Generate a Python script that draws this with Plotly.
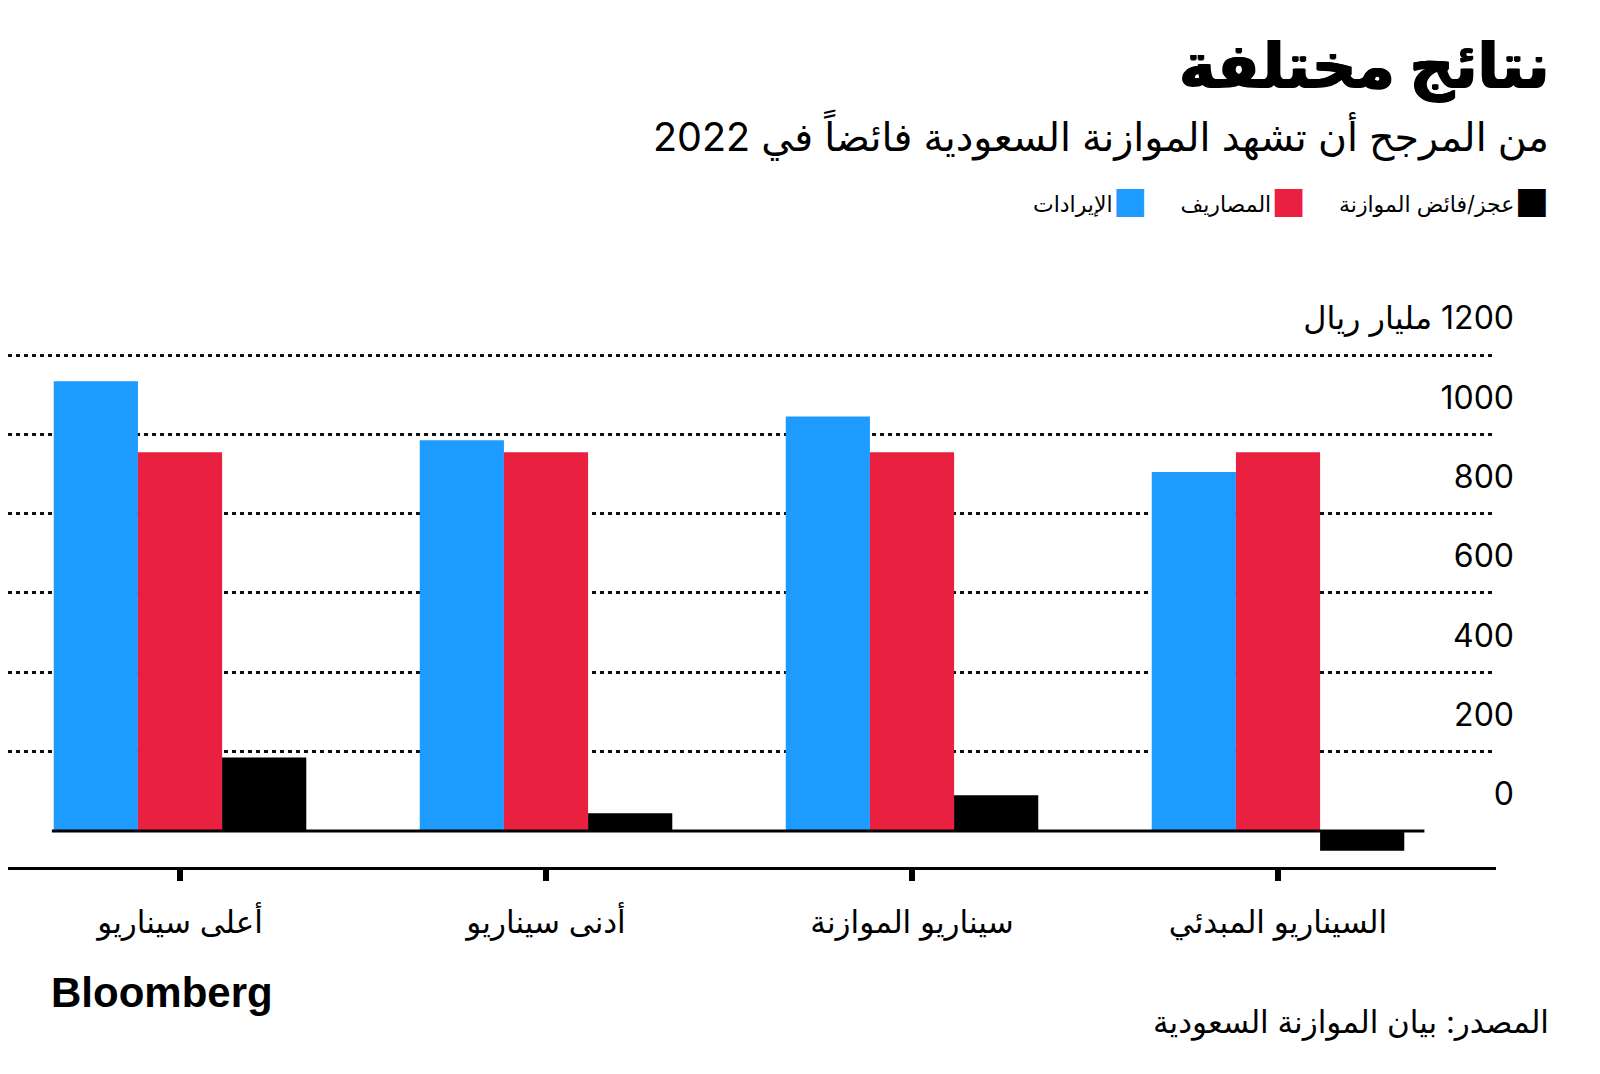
import plotly.graph_objects as go

# ---------------- data ----------------
categories = ["أعلى سيناريو", "أدنى سيناريو", "سيناريو الموازنة", "السيناريو المبدئي"]
revenues = [1134, 985, 1045, 905]
expenses = [955, 955, 955, 955]
balance = [185, 45, 90, -50]
series_names = ["الإيرادات", "المصاريف", "عجز/فائض الموازنة"]
y_tickvals = [0, 200, 400, 600, 800, 1000, 1200]
y_ticktext = ["0", "200", "400", "600", "800", "1000", "\u200F1200 مليار ريال"]

title_text = "نتائج مختلفة"
subtitle_text = "من المرجح أن تشهد الموازنة السعودية فائضاً في 2022"
source_text = "المصدر: بيان الموازنة السعودية"

# ---------------- style ----------------
BLUE = "#1E9BFF"
RED = "#EA2040"
BLACK = "#000000"
FONT = "Inter, DejaVu Sans, sans-serif"

OFF = 8  # page offset of the figure (body margin)
W, H = 1600, 1074
ML, MR, MT, MB = 0, 60, 342, 215
PW = W - ML - MR
PH = H - MT - MB
PLOT_RIGHT = 1488


def px_x(px):
    return (px - OFF - ML) / PW


def px_y(py):
    return (H - MB - (py - OFF)) / PH


fig = go.Figure()
colors = [BLUE, RED, BLACK]
for name, vals, col in zip(series_names, [revenues, expenses, balance], colors):
    fig.add_trace(go.Bar(x=categories, y=vals, name=name, marker=dict(color=col, line=dict(width=0)),
                         showlegend=False, hoverinfo="skip"))

# legend entries (square on the right of the text, RTL style)
for name, col in zip(series_names, colors):
    fig.add_trace(go.Scatter(
        x=[None], y=[None], mode="markers",
        marker=dict(color="rgba(0,0,0,0)", size=1),
        name=f"{name}<span style='color:{col};font-size:38px;baseline-shift:-5px'>■</span>",
        showlegend=True,
    ))

# zero baseline under the bars
fig.add_shape(type="line", xref="x", yref="y", x0=-0.35, x1=3.40, y0=0, y1=0,
              line=dict(color=BLACK, width=3), layer="above")

fig.update_layout(
    width=W, height=H,
    margin=dict(l=ML, r=MR, t=MT, b=MB, pad=0, autoexpand=False),
    paper_bgcolor="white", plot_bgcolor="white",
    barmode="group", bargap=0.31, bargroupgap=0,
    font=dict(family=FONT, color=BLACK),
    legend=dict(orientation="h", xanchor="right", x=px_x(1555), yanchor="middle", y=px_y(204),
                font=dict(size=22, family=FONT, color=BLACK), itemwidth=30, indentation=-12,
                bgcolor="rgba(0,0,0,0)", traceorder="normal"),
    xaxis=dict(
        domain=[0, PLOT_RIGHT / PW],
        range=[-0.470, 3.5956],
        showline=True, linecolor=BLACK, linewidth=3,
        ticks="outside", ticklen=11, tickwidth=6, tickcolor=BLACK,
        tickfont=dict(size=31, family=FONT, color=BLACK),
        ticklabelstandoff=15,
        showgrid=False, zeroline=False, fixedrange=True,
    ),
    yaxis=dict(
        anchor="free", position=px_x(1514), side="left",
        range=[-90.8, 1212.6],
        tickvals=y_tickvals, ticktext=y_ticktext,
        tickfont=dict(size=32, family=FONT, color=BLACK),
        ticks="", ticklabelshift=-37,
        showgrid=True, gridcolor="#111111", gridwidth=2.5, griddash="4px,4px",
        zeroline=True, zerolinecolor="white", zerolinewidth=4,
        showline=False, fixedrange=True,
    ),
    annotations=[
        dict(text=f"<b>{title_text}</b>", xref="paper", yref="paper", x=px_x(1551), y=px_y(64),
             xanchor="right", yanchor="middle", showarrow=False,
             font=dict(size=62, family=FONT, color=BLACK,
                       shadow="1px 0 0 #000, -1px 0 0 #000, 0 1px 0 #000")),
        dict(text=subtitle_text, xref="paper", yref="paper", x=px_x(1551), y=px_y(135),
             xanchor="right", yanchor="middle", showarrow=False,
             font=dict(size=39.5, family=FONT, color=BLACK)),
        dict(text="<b>Bloomberg</b>", xref="paper", yref="paper", x=px_x(49), y=px_y(993),
             xanchor="left", yanchor="middle", showarrow=False,
             font=dict(size=42, family="Liberation Sans, Arial, sans-serif", color=BLACK)),
        dict(text=source_text, xref="paper", yref="paper", x=px_x(1551), y=px_y(1022),
             xanchor="right", yanchor="middle", showarrow=False,
             font=dict(size=31, family=FONT, color=BLACK)),
    ],
)

fig.write_html("out.html")
